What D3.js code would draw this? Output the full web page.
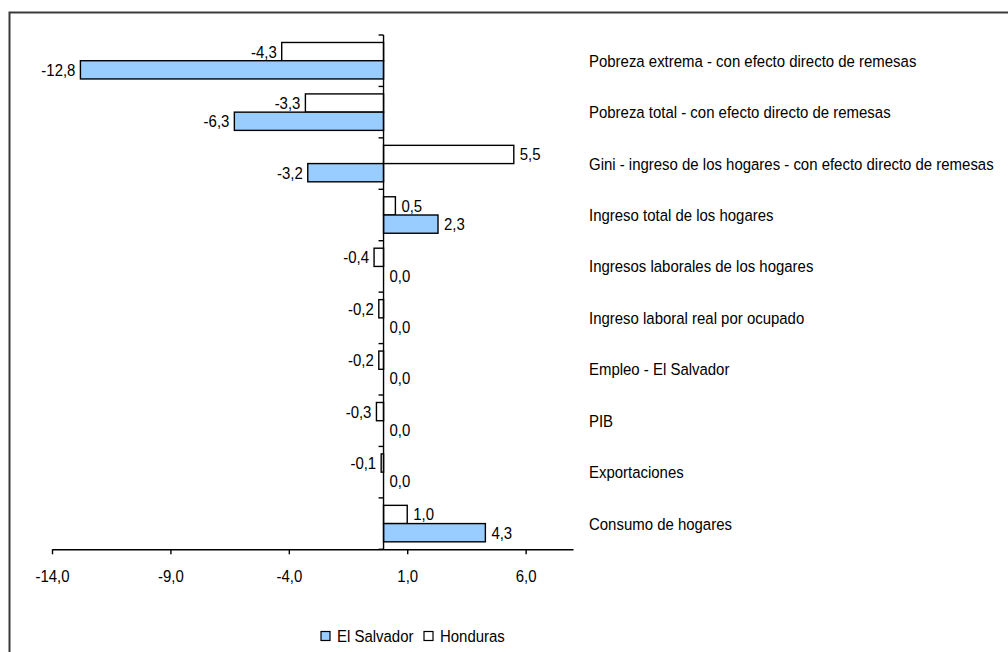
<!DOCTYPE html>
<html>
<head>
<meta charset="utf-8">
<script src="https://cdn.jsdelivr.net/npm/d3@7"></script>
<style>
  html, body { margin: 0; padding: 0; background: #fff; }
  svg { display: block; }
  text { font-family: "Liberation Sans", Arial, sans-serif; fill: #000; }
</style>
</head>
<body>
<svg id="chart" width="1008" height="652"></svg>
<script>
// Categories, top to bottom
const categories = [
  "Pobreza extrema - con efecto directo de remesas",
  "Pobreza total - con efecto directo de remesas",
  "Gini - ingreso de los hogares - con efecto directo de remesas",
  "Ingreso total de los hogares",
  "Ingresos laborales de los hogares",
  "Ingreso laboral real por ocupado",
  "Empleo - El Salvador",
  "PIB",
  "Exportaciones",
  "Consumo de hogares"
];
const series = ["Honduras", "El Salvador"];
const elSalvador = [-12.8, -6.3, -3.2, 2.3, 0.0, 0.0, 0.0, 0.0, 0.0, 4.3];
const honduras = [-4.3, -3.3, 5.5, 0.5, -0.4, -0.2, -0.2, -0.3, -0.1, 1.0];
const xTicks = [-14, -9, -4, 1, 6];
const legendItems = ["El Salvador", "Honduras"];

const colors = { "El Salvador": "#99ccff", "Honduras": "#ffffff" };
const fmt = v => d3.format(".1f")(v).replace(".", ",").replace("−", "-");

// narrow lettering: regular face squeezed horizontally
const fontSize = 17;
const squeeze = 0.88;
const place = (px, py) => `translate(${px},${py}) scale(${squeeze},1)`;

const svg = d3.select("#chart");

// outer frame
svg.append("rect")
  .attr("x", 9.5).attr("y", 12.5)
  .attr("width", 1100).attr("height", 700)
  .attr("fill", "none").attr("stroke", "#3a3a3a").attr("stroke-width", 2);

const x = d3.scaleLinear().domain([-14, 8]).range([52, 573]);
const y = d3.scaleBand().domain(categories).range([35, 549.3]).padding(0);
const ySub = d3.scaleBand().domain(series).range([0, y.bandwidth()])
  .paddingInner(0).paddingOuter(0.41);

const rows = categories.map((c, i) => ({
  cat: c,
  vals: [
    { s: "Honduras", v: honduras[i] },
    { s: "El Salvador", v: elSalvador[i] }
  ]
}));

// bars
const g = svg.append("g");
const row = g.selectAll("g.row").data(rows).join("g")
  .attr("class", "row")
  .attr("transform", d => `translate(0,${y(d.cat)})`);

row.selectAll("rect").data(d => d.vals).join("rect")
  .attr("x", d => x(Math.min(0, d.v)))
  .attr("y", d => ySub(d.s))
  .attr("width", d => Math.abs(x(d.v) - x(0)))
  .attr("height", ySub.bandwidth())
  .attr("fill", d => colors[d.s])
  .attr("stroke", "#000")
  .attr("stroke-width", 1.4);

// value labels
row.selectAll("text.val").data(d => d.vals).join("text")
  .attr("class", "val")
  .attr("transform", d => place(
    d.v < 0 ? x(d.v) - 5 : x(d.v) + 6,
    ySub(d.s) + ySub.bandwidth() / 2))
  .attr("dy", "0.35em")
  .attr("text-anchor", d => d.v < 0 ? "end" : "start")
  .attr("font-size", fontSize)
  .text(d => fmt(d.v));

// vertical category axis at zero, ticks on band boundaries
const yAxisG = svg.append("g").attr("transform", `translate(${x(0)},0)`);
yAxisG.append("path")
  .attr("d", `M0,${y.range()[0]}V${y.range()[1]}`)
  .attr("stroke", "#000").attr("stroke-width", 1.4);
const boundaries = categories.map(c => y(c)).concat([y.range()[1]]);
yAxisG.selectAll("line.b").data(boundaries).join("line")
  .attr("class", "b")
  .attr("x1", -5).attr("x2", 0)
  .attr("y1", d => d).attr("y2", d => d)
  .attr("stroke", "#000").attr("stroke-width", 1.4);

// category labels on the right
svg.append("g").selectAll("text").data(categories).join("text")
  .attr("transform", d => place(589, y(d) + y.bandwidth() / 2))
  .attr("dy", "0.35em")
  .attr("font-size", fontSize)
  .text(d => d);

// horizontal value axis
const xAxis = d3.axisBottom(x).tickValues(xTicks).tickSize(5).tickSizeOuter(0)
  .tickFormat(fmt);
const xAxisG = svg.append("g")
  .attr("transform", `translate(0,${y.range()[1]})`)
  .call(xAxis);
xAxisG.attr("font-family", null).attr("font-size", null);
xAxisG.select(".domain").attr("stroke", "#000").attr("stroke-width", 1.4);
xAxisG.selectAll(".tick line").attr("stroke", "#000").attr("stroke-width", 1.4);
xAxisG.selectAll(".tick text")
  .attr("font-size", fontSize)
  .attr("y", null)
  .attr("transform", place(0, 26.5))
  .attr("dy", "0.35em");

// legend
const legend = svg.append("g").attr("transform", "translate(321,636)");
const li = legend.selectAll("g").data(legendItems).join("g")
  .attr("transform", (d, i) => `translate(${i === 0 ? 0 : 103},0)`);
li.append("rect")
  .attr("x", 0).attr("y", -4.5).attr("width", 9).attr("height", 9)
  .attr("fill", d => colors[d]).attr("stroke", "#000").attr("stroke-width", 1.2);
li.append("text")
  .attr("transform", place(16, 0))
  .attr("dy", "0.35em")
  .attr("font-size", fontSize)
  .text(d => d);
</script>
</body>
</html>
